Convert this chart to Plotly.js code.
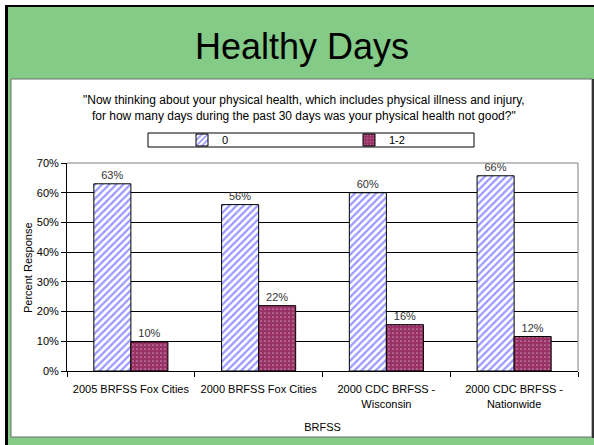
<!DOCTYPE html>
<html>
<head>
<meta charset="utf-8">
<script src="https://cdn.plot.ly/plotly-3.0.1.min.js"></script>
<style>html,body{margin:0;padding:0;background:#fff;}#chart{width:594px;height:445px;}</style>
</head>
<body>
<div id="chart"></div>
<script>
// ---- data ----
var categories = ["2005 BRFSS Fox Cities", "2000 BRFSS Fox Cities", "2000 CDC BRFSS -<br>Wisconsin", "2000 CDC BRFSS -<br>Nationwide"];
var seriesNames = ["0", "1-2"];
var values0 = [63, 56, 60, 65.7];
var values12 = [9.8, 22, 15.6, 11.6];
var yTicks = [0, 10, 20, 30, 40, 50, 60, 70];
var yTickLabels = ["0%", "10%", "20%", "30%", "40%", "50%", "60%", "70%"];
var slideTitle = "Healthy Days";
var subtitle = "\"Now thinking about your physical health, which includes physical illness and injury,<br>for how many days during the past 30 days was your physical health not good?\"";
var xTitle = "BRFSS";
var yTitle = "Percent Response";

// ---- geometry helpers (pixel -> paper) ----
var L = 67, R = 578, T = 163, B = 371;
function px(x){ return (x - L) / (R - L); }
function py(y){ return (B - y) / (B - T); }
var FONT = "Arial, 'Liberation Sans', sans-serif";

var trace0 = {
  type: "bar", name: seriesNames[0], x: categories, y: values0,
  marker: {color: "#FFFFFF", line: {color: "#000000", width: 1},
    pattern: {shape: "/", fgcolor: "#9999FF", bgcolor: "#FFFFFF", size: 5, solidity: 0.45}},
  texttemplate: "%{y:.0f}%", textposition: "outside", cliponaxis: false,
  textfont: {family: FONT, size: 11, color: "#333333"}, hoverinfo: "skip"
};
var trace1 = {
  type: "bar", name: seriesNames[1], x: categories, y: values12,
  marker: {color: "#993366", line: {color: "#000000", width: 1},
    pattern: {shape: ".", fgcolor: "#C98AAE", bgcolor: "#993366", size: 4, solidity: 0.15}},
  texttemplate: "%{y:.0f}%", textposition: "outside", cliponaxis: false,
  textfont: {family: FONT, size: 11, color: "#333333"}, hoverinfo: "skip"
};

var shapes = [
  {type: "rect", xref: "paper", yref: "paper", x0: px(8), x1: px(594), y0: py(445), y1: py(6), fillcolor: "#83CB86", line: {width: 0}, layer: "below"},
  {type: "rect", xref: "paper", yref: "paper", x0: px(5), x1: px(8), y0: py(445), y1: py(5), fillcolor: "#000000", line: {width: 0}, layer: "below"},
  {type: "rect", xref: "paper", yref: "paper", x0: px(5), x1: px(594), y0: py(7), y1: py(5), fillcolor: "#000000", line: {width: 0}, layer: "below"},
  {type: "rect", xref: "paper", yref: "paper", x0: px(11), x1: px(592), y0: py(437), y1: py(79), fillcolor: "#FFFFFF", line: {color: "#6E6E6E", width: 1}, layer: "below"},
  {type: "line", xref: "paper", yref: "paper", x0: px(593), x1: px(593), y0: py(438), y1: py(79), line: {color: "#333333", width: 2}, layer: "below"},
  {type: "rect", xref: "paper", yref: "paper", x0: px(148), x1: px(474), y0: py(147), y1: py(133), fillcolor: "#FFFFFF", line: {color: "#000000", width: 1}, layer: "below"},
  {type: "line", xref: "paper", yref: "paper", x0: 0, x1: 1, y0: 1, y1: 1, line: {color: "#808080", width: 1}, layer: "above"},
  {type: "line", xref: "paper", yref: "paper", x0: 1, x1: 1, y0: 0, y1: 1, line: {color: "#808080", width: 1}, layer: "above"}
];

var annotations = [
  {text: slideTitle, xref: "paper", yref: "paper", x: px(302), y: py(46), xanchor: "center", yanchor: "middle", showarrow: false,
   font: {family: FONT, size: 36, color: "#000000"}},
  {text: subtitle, xref: "paper", yref: "paper", x: px(304), y: py(108), xanchor: "center", yanchor: "middle", showarrow: false,
   font: {family: FONT, size: 12, color: "#000000"}},
  {text: yTitle, xref: "paper", yref: "paper", x: px(28), y: py(268), xanchor: "center", yanchor: "middle", textangle: -90, showarrow: false,
   font: {family: FONT, size: 11, color: "#000000"}}
];

var layout = {
  width: 594, height: 445,
  margin: {l: L, r: 594 - R, t: T, b: 445 - B, pad: 0},
  paper_bgcolor: "#FFFFFF", plot_bgcolor: "#FFFFFF",
  font: {family: FONT, size: 11, color: "#000000"},
  barmode: "group", bargap: 0.42, bargroupgap: 0,
  showlegend: true,
  legend: {orientation: "h", x: px(182), y: py(140), xanchor: "left", yanchor: "middle",
    bgcolor: "rgba(0,0,0,0)", borderwidth: 0, entrywidth: 122, entrywidthmode: "pixels",
    font: {family: FONT, size: 11, color: "#000000"}, traceorder: "normal"},
  xaxis: {type: "category", tickson: "boundaries", ticks: "outside", ticklen: 5, tickcolor: "#000000",
    showline: true, linecolor: "#000000", linewidth: 1, showgrid: false, fixedrange: true,
    ticklabelstandoff: 8,
    tickfont: {family: FONT, size: 11, color: "#000000"},
    title: {text: xTitle, font: {family: FONT, size: 11, color: "#000000"}, standoff: 14}},
  yaxis: {range: [0, 70], tickmode: "array", tickvals: yTicks, ticktext: yTickLabels, ticks: "outside", ticklen: 5, tickcolor: "#000000",
    showline: true, linecolor: "#000000", linewidth: 1, showgrid: true, gridcolor: "#000000", gridwidth: 1,
    zeroline: false, fixedrange: true, tickfont: {family: FONT, size: 11, color: "#000000"}},
  shapes: shapes,
  annotations: annotations
};

Plotly.newPlot("chart", [trace0, trace1], layout, {displayModeBar: false, staticPlot: true});
</script>
</body>
</html>
